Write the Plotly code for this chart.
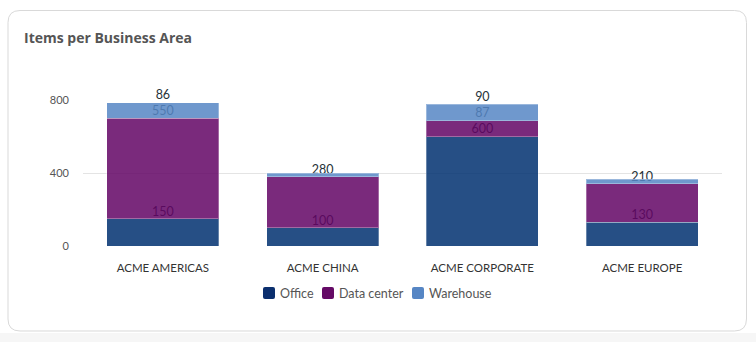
import plotly.graph_objects as go

categories = ["ACME AMERICAS", "ACME CHINA", "ACME CORPORATE", "ACME EUROPE"]
series_names = ["Office", "Data center", "Warehouse"]
office = [150, 100, 600, 130]
data_center = [550, 280, 87, 210]
warehouse = [86, 20, 90, 27]
y_ticks = [0, 400, 800]

series_values = [office, data_center, warehouse]
colors = ["#0b2f6e", "#650a66", "#5686c4"]
bar_colors = ["rgba(0,48,112,0.85)", "rgba(99,5,101,0.85)", "rgba(86,134,196,0.85)"]

W, H = 756, 342
L, R, T, B = 83, 34, 100, 96
pw, ph = W - L - R, H - T - B

fig = go.Figure()

# value labels (drawn beneath the translucent bars)
lab_x, lab_y, lab_t = [], [], []
for i, cat in enumerate(categories):
    cum = 0
    last = None
    for s in series_values:
        cum += s[i]
        if last is None or cum - last > 50:
            lab_x.append(cat); lab_y.append(cum); lab_t.append(str(s[i]))
            last = cum
fig.add_trace(go.Scatter(x=lab_x, y=lab_y, text=lab_t, mode="text",
                         textposition="top center",
                         textfont=dict(family="Lato", size=12.5, color="#263238"),
                         showlegend=False, hoverinfo="skip", cliponaxis=False, zorder=0))

for name, vals, bc in zip(series_names, series_values, bar_colors):
    fig.add_trace(go.Bar(x=categories, y=vals, name=name, showlegend=False,
                         marker=dict(color=bc, line=dict(color="rgba(255,255,255,0.3)", width=1)),
                         zorder=1))

def px2paper(x, y):
    return (x - L) / pw, (H - B - y) / ph

def P(x, y):
    a, b = px2paper(x, y)
    return f"{a:.5f},{b:.5f}"

def rounded(x0, y0, x1, y1, r):
    return (f"M {P(x0 + r, y0)} L {P(x1 - r, y0)} Q {P(x1, y0)} {P(x1, y0 + r)} "
            f"L {P(x1, y1 - r)} Q {P(x1, y1)} {P(x1 - r, y1)} L {P(x0 + r, y1)} "
            f"Q {P(x0, y1)} {P(x0, y1 - r)} L {P(x0, y0 + r)} Q {P(x0, y0)} {P(x0 + r, y0)} Z")

gx0, gy0 = px2paper(0, 333)
gx1, gy1 = px2paper(W, H)
shapes = [
    dict(type="rect", xref="paper", yref="paper", x0=gx0, x1=gx1, y0=gy1, y1=gy0,
         fillcolor="#f6f6f6", line=dict(width=0), layer="below"),
    dict(type="path", xref="paper", yref="paper", path=rounded(8, 10.5, 746.5, 331, 12),
         line=dict(color="#d9d9d9", width=1), fillcolor="rgba(0,0,0,0)", layer="below"),
]

# custom legend (swatch + text)
legend_pos = [263, 322, 412]
annotations = []
for name, c, lx in zip(series_names, colors, legend_pos):
    shapes.append(dict(type="path", xref="paper", yref="paper",
                       path=rounded(lx, 287, lx + 12, 299, 2),
                       fillcolor=c, line=dict(width=0), layer="above"))
    ax, ay = px2paper(lx + 14.5, 293)
    annotations.append(dict(text=name, xref="paper", yref="paper", x=ax, y=ay,
                            xanchor="left", yanchor="middle", showarrow=False,
                            font=dict(family="Lato", size=12.5, color="#555555")))

fig.update_layout(
    width=W, height=H,
    margin=dict(l=L, r=R, t=T, b=B),
    paper_bgcolor="white", plot_bgcolor="white",
    barmode="stack", bargap=0.3,
    font=dict(family="Lato", size=11, color="#555555"),
    title=dict(text="<b>Items per Business Area</b>", x=24 / W, xref="container", xanchor="left",
               y=1 - 38 / H, yref="container", yanchor="middle",
               font=dict(family="Open Sans", size=14, color="#555555")),
    shapes=shapes,
    annotations=annotations,
    showlegend=False,
    hovermode=False,
)
fig.update_xaxes(showgrid=False, showline=True, linecolor="#8a8f96", linewidth=1,
                 ticks="", ticklabelstandoff=11,
                 tickfont=dict(family="Lato", size=11.5, color="#333333"))
fig.update_yaxes(range=[0, 800], tickvals=y_ticks, showgrid=True, gridcolor="#e4e4e4",
                 zeroline=False, showline=False, ticks="", ticklabelstandoff=13,
                 tickfont=dict(family="Lato", size=11, color="#555555"))

fig.write_html("out.html")
